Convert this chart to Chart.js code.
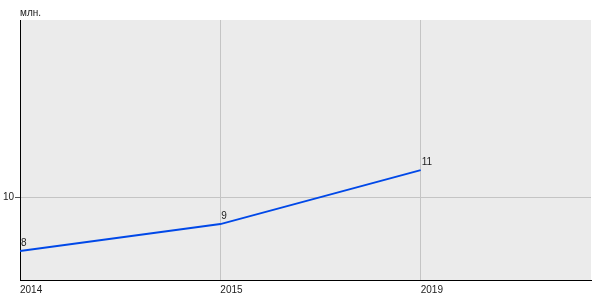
<!DOCTYPE html>
<html>
<head>
<meta charset="utf-8">
<script src="https://cdn.jsdelivr.net/npm/chart.js@4"></script>
<style>
  body { margin: 0; background: #fff; }
  #wrap { width: 600px; height: 300px; }
</style>
</head>
<body>
<div id="wrap"><canvas id="grafica"></canvas></div>
<script>
// datos
const anios = ['2014', '2015', '2019'];
const valores = [8, 9, 11];
const ticksY = [10];
const unidad = 'млн.';

const FUENTE = '"Liberation Sans", Arial, sans-serif';

// fondo gris del area de la grafica + titulo + etiquetas de datos
const extras = {
    id: 'extras',
    beforeDraw(chart) {
        const { ctx, chartArea: a } = chart;
        ctx.save();
        ctx.fillStyle = '#ebebeb';
        ctx.fillRect(a.left, a.top, a.right - a.left, a.bottom - a.top);
        ctx.restore();
    },
    afterDatasetsDraw(chart) {
        const { ctx, chartArea: a } = chart;
        ctx.save();
        ctx.font = '10px ' + FUENTE;
        ctx.fillStyle = '#222';
        ctx.textAlign = 'left';
        ctx.textBaseline = 'alphabetic';
        ctx.fillText(unidad, a.left, 16);
        const meta = chart.getDatasetMeta(0);
        meta.data.forEach((p, i) => {
            ctx.fillText(String(valores[i]), p.x + 1, p.y - 5);
        });
        ctx.restore();
    }
};

const puntos = valores.map((v, i) => ({ x: i, y: v }));

new Chart(document.getElementById('grafica'), {
    type: 'line',
    data: {
        datasets: [{
            data: puntos,
            borderColor: '#0048e8',
            borderWidth: 2,
            pointRadius: 0,
            tension: 0,
            fill: false
        }]
    },
    options: {
        responsive: true,
        maintainAspectRatio: false,
        animation: false,
        layout: { padding: { top: 20, right: 9, left: 0, bottom: 0 } },
        plugins: {
            legend: { display: false },
            title: { display: false },
            tooltip: { enabled: false }
        },
        scales: {
            x: {
                type: 'linear',
                min: 0,
                max: 2.85,
                afterBuildTicks(scale) {
                    scale.ticks = anios.map((_, i) => ({ value: i }));
                },
                afterFit(scale) { scale.height = 20; },
                ticks: {
                    align: 'start',
                    padding: 4,
                    color: '#222',
                    font: { family: FUENTE, size: 10 },
                    callback: (v) => anios[v] ?? ''
                },
                grid: { color: '#c4c4c4', drawTicks: false },
                border: { color: '#000', width: 1 }
            },
            y: {
                min: 6.93,
                max: 16.56,
                afterBuildTicks(scale) {
                    scale.ticks = ticksY.map(v => ({ value: v }));
                },
                afterFit(scale) { scale.width = 20; },
                ticks: {
                    padding: 1,
                    color: '#222',
                    font: { family: FUENTE, size: 10 }
                },
                grid: { color: '#c4c4c4', tickLength: 5, tickColor: '#555' },
                border: { color: '#000', width: 1 }
            }
        }
    },
    plugins: [extras]
});
</script>
</body>
</html>
